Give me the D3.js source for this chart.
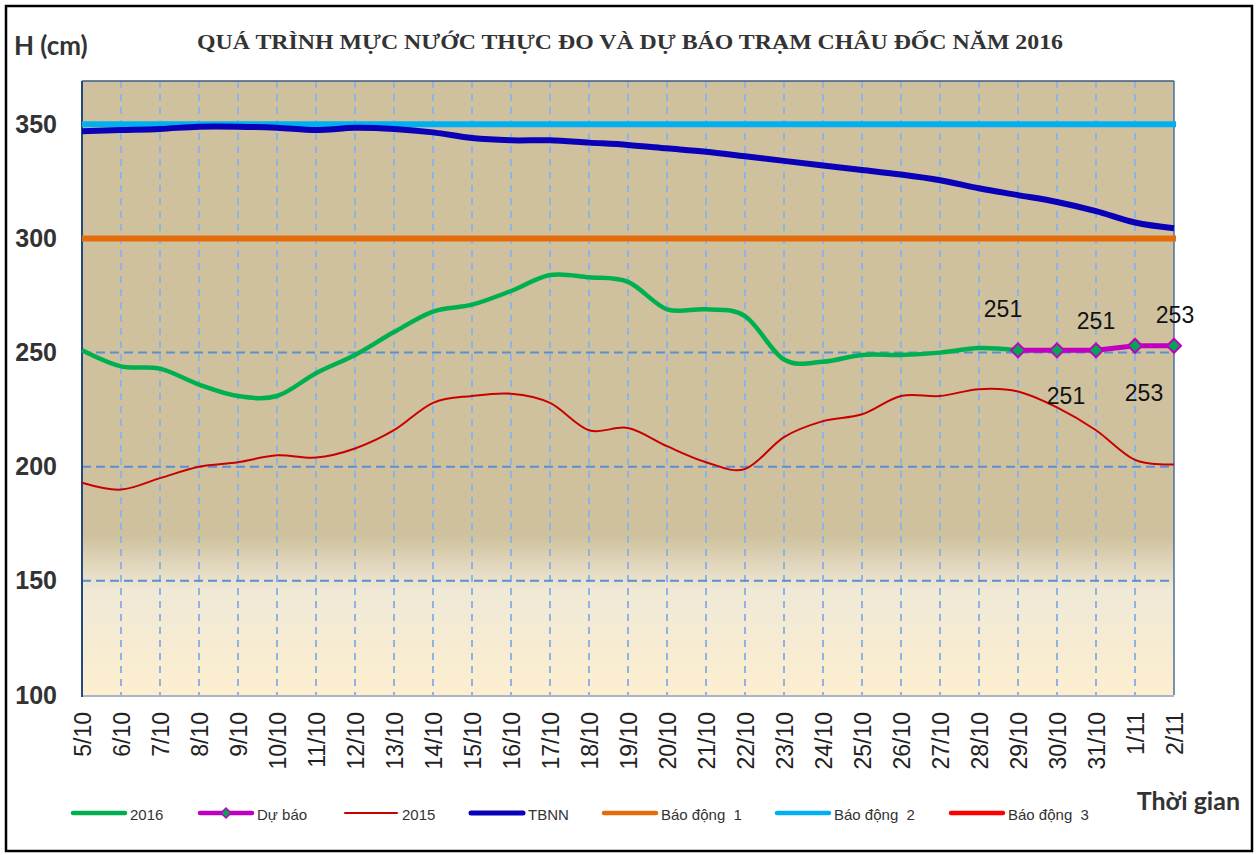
<!DOCTYPE html>
<html>
<head>
<meta charset="utf-8">
<script src="https://cdn.jsdelivr.net/npm/d3@7"></script>
<style>
    body { margin: 0; background: #fff; }
    #chart-container { width: 1258px; height: 855px; }
    .legendText { white-space: pre; }
</style>
</head>
<body>
<div id="chart-container"></div>
<script>
(function(){

//data
var dates = ["5/10","6/10","7/10","8/10","9/10","10/10","11/10","12/10","13/10","14/10",
    "15/10","16/10","17/10","18/10","19/10","20/10","21/10","22/10","23/10","24/10",
    "25/10","26/10","27/10","28/10","29/10","30/10","31/10","1/11","2/11"];

var level2016 = [251,244,243,236,231,231,241,249,259,268,
    271,277,284,283,281,269,269,266,247,246,
    249,249,250,252,251,null,null,null,null];

var forecast = [null,null,null,null,null,null,null,null,null,null,
    null,null,null,null,null,null,null,null,null,null,
    null,null,null,null,251,251,251,253,253];

var level2015 = [193,190,195,200,202,205,204,208,216,228,
    231,232,228,216,217,209,202,199,213,220,
    223,231,231,234,233,226,216,203,201];

var tbnn = [347,347.5,348,349,349,348.5,347.5,348.5,348,346.5,
    344,343,343,342,341,339.5,338,336,334,332,
    330,328,325.5,322,319,316,312,307,304.5];

var alertNames = ["Báo động  1","Báo động  2","Báo động  3"];
var alertLevels = [300, 350, 400];

var yTicks = [100, 150, 200, 250, 300, 350];

//forecast label offsets (label centre relative to point)
var labelOffsets = [[-15,-42],[9,45],[0,-30],[9,47],[1,-31]];

window.onload = setChart;

function setChart(){

    var width = 1258,
        height = 855;

    var left = 82, right = 1174, top = 81, bottom = 695;

    var svg = d3.select("#chart-container")
        .append("svg")
        .attr("width", width)
        .attr("height", height);

    var x = d3.scalePoint()
        .domain(dates)
        .range([left, right]);

    var y = d3.scaleLinear()
        .domain([100, 369])
        .range([bottom, top]);

    //outer frame
    svg.append("rect")
        .attr("x", 6)
        .attr("y", 6)
        .attr("width", 1246)
        .attr("height", 845)
        .attr("fill", "#fff")
        .attr("stroke", "#000")
        .attr("stroke-width", 2.5);

    //background gradient
    var defs = svg.append("defs");
    var grad = defs.append("linearGradient")
        .attr("id", "plotBg")
        .attr("x1", 0).attr("y1", 0)
        .attr("x2", 0).attr("y2", 1);
    grad.append("stop").attr("offset", 0).attr("stop-color", "#cfc19e");
    grad.append("stop").attr("offset", 0.74).attr("stop-color", "#cfc19e");
    grad.append("stop").attr("offset", 0.83).attr("stop-color", "#efe9d6");
    grad.append("stop").attr("offset", 1).attr("stop-color", "#fdeecf");

    defs.append("clipPath")
        .attr("id", "plotClip")
        .append("rect")
        .attr("x", left - 2)
        .attr("y", top)
        .attr("width", right - left + 6)
        .attr("height", bottom - top);

    svg.append("rect")
        .attr("x", left)
        .attr("y", top)
        .attr("width", right - left)
        .attr("height", bottom - top)
        .attr("fill", "url(#plotBg)");

    //vertical gridlines
    svg.selectAll(".vGrid")
        .data(dates.slice(1, -1))
        .enter()
        .append("line")
        .attr("class", "vGrid")
        .attr("x1", function(d){ return x(d); })
        .attr("x2", function(d){ return x(d); })
        .attr("y1", top)
        .attr("y2", bottom)
        .attr("stroke", "#8fb4e3")
        .attr("stroke-width", 2)
        .attr("stroke-dasharray", "7,6");

    //horizontal gridlines
    svg.selectAll(".hGrid")
        .data(yTicks.slice(1))
        .enter()
        .append("line")
        .attr("class", "hGrid")
        .attr("x1", left)
        .attr("x2", right)
        .attr("y1", function(d){ return y(d); })
        .attr("y2", function(d){ return y(d); })
        .attr("stroke", "#5b8fd5")
        .attr("stroke-width", 2)
        .attr("stroke-dasharray", "9,5");

    //plot border
    svg.append("line").attr("x1", left).attr("x2", right).attr("y1", top).attr("y2", top)
        .attr("stroke", "#3b5a82").attr("stroke-width", 1.5);
    svg.append("line").attr("x1", right).attr("x2", right).attr("y1", top).attr("y2", bottom)
        .attr("stroke", "#4d6f9c").attr("stroke-width", 1.5);
    svg.append("line").attr("x1", left).attr("x2", right).attr("y1", bottom + 1).attr("y2", bottom + 1)
        .attr("stroke", "#a9b6c8").attr("stroke-width", 2);
    svg.append("line").attr("x1", left).attr("x2", left).attr("y1", top).attr("y2", bottom + 2)
        .attr("stroke", "#24497c").attr("stroke-width", 2);

    var plot = svg.append("g").attr("clip-path", "url(#plotClip)");

    //alert lines
    var alertColors = ["#e46c0a", "#00b0f0", "#ff0000"];
    plot.selectAll(".alert")
        .data(alertLevels)
        .enter()
        .append("line")
        .attr("class", "alert")
        .attr("x1", left)
        .attr("x2", right + 2)
        .attr("y1", function(d){ return y(d); })
        .attr("y2", function(d){ return y(d); })
        .attr("stroke", function(d, i){ return alertColors[i]; })
        .attr("stroke-width", 6);

    var line = d3.line()
        .defined(function(d){ return d != null; })
        .x(function(d, i){ return x(dates[i]); })
        .y(function(d){ return y(d); })
        .curve(d3.curveCardinal.tension(0));

    plot.append("path")
        .datum(tbnn)
        .attr("d", line)
        .attr("fill", "none")
        .attr("stroke", "#0a00b8")
        .attr("stroke-width", 6);

    plot.append("path")
        .datum(level2015)
        .attr("d", line)
        .attr("fill", "none")
        .attr("stroke", "#c80000")
        .attr("stroke-width", 2);

    plot.append("path")
        .datum(level2016)
        .attr("d", line)
        .attr("fill", "none")
        .attr("stroke", "#00b050")
        .attr("stroke-width", 4.5);

    //forecast
    var fcIdx = [];
    forecast.forEach(function(d, i){ if (d != null) fcIdx.push(i); });

    var fcLine = d3.line()
        .x(function(i){ return x(dates[i]); })
        .y(function(i){ return y(forecast[i]); });

    svg.append("path")
        .datum(fcIdx)
        .attr("d", fcLine)
        .attr("fill", "none")
        .attr("stroke", "#c000c0")
        .attr("stroke-width", 5);

    svg.selectAll(".fcMarker")
        .data(fcIdx)
        .enter()
        .append("path")
        .attr("class", "fcMarker")
        .attr("d", "M0,-7L7,0L0,7L-7,0Z")
        .attr("transform", function(i){ return "translate(" + x(dates[i]) + "," + y(forecast[i]) + ")"; })
        .attr("fill", "#00a651")
        .attr("stroke", "#c000c0")
        .attr("stroke-width", 2);

    svg.selectAll(".fcLabel")
        .data(fcIdx)
        .enter()
        .append("text")
        .attr("class", "fcLabel")
        .attr("x", function(i, k){ return x(dates[i]) + labelOffsets[k][0]; })
        .attr("y", function(i, k){ return y(forecast[i]) + labelOffsets[k][1]; })
        .attr("dy", "0.36em")
        .attr("text-anchor", "middle")
        .attr("font-family", "Liberation Sans, Arial, sans-serif")
        .attr("font-size", 23)
        .attr("fill", "#111")
        .text(function(i){ return forecast[i]; });

    //axes
    var yAxis = d3.axisLeft(y)
        .tickValues(yTicks)
        .tickSize(0)
        .tickPadding(25);

    var yG = svg.append("g")
        .attr("transform", "translate(" + left + ",0)")
        .call(yAxis);
    yG.select(".domain").remove();
    yG.selectAll("text")
        .attr("font-family", "Liberation Sans, Arial, sans-serif")
        .attr("font-weight", "bold")
        .attr("font-size", 25)
        .attr("fill", "#333");

    var xAxis = d3.axisBottom(x)
        .tickSize(0);

    var xG = svg.append("g")
        .attr("transform", "translate(0," + bottom + ")")
        .call(xAxis);
    xG.select(".domain").remove();
    xG.selectAll("text")
        .attr("transform", "rotate(-90)")
        .attr("x", -17)
        .attr("y", 0)
        .attr("dy", "0.36em")
        .attr("text-anchor", "end")
        .attr("font-family", "Liberation Sans, Arial, sans-serif")
        .attr("font-size", 23)
        .attr("fill", "#222");

    //titles
    svg.append("text")
        .attr("x", 630)
        .attr("y", 49)
        .attr("text-anchor", "middle")
        .attr("font-family", "Liberation Serif, Times New Roman, serif")
        .attr("font-weight", "bold")
        .attr("font-size", 22)
        .attr("fill", "#333")
        .attr("textLength", 866)
        .attr("lengthAdjust", "spacingAndGlyphs")
        .text("QUÁ TRÌNH MỰC NƯỚC THỰC ĐO VÀ DỰ BÁO TRẠM CHÂU ĐỐC  NĂM 2016");

    svg.append("text")
        .attr("x", 14)
        .attr("y", 55)
        .attr("font-family", "Lato, sans-serif")
        .attr("font-weight", "bold")
        .attr("font-size", 26)
        .attr("fill", "#333")
        .text("H (cm)");

    svg.append("text")
        .attr("x", 1240)
        .attr("y", 810)
        .attr("text-anchor", "end")
        .attr("font-family", "Lato, sans-serif")
        .attr("font-weight", "bold")
        .attr("font-size", 25)
        .attr("fill", "#333")
        .text("Thời gian");

    setLegend(svg);
};

//LEGEND FUNCTION
function setLegend(svg){

    var items = [
        {name: "2016", color: "#00b050", w: 4.5, x: 73},
        {name: "Dự báo", color: "#c000c0", w: 4.5, x: 200, marker: true},
        {name: "2015", color: "#c80000", w: 2, x: 345},
        {name: "TBNN", color: "#0a00b8", w: 5, x: 471},
        {name: alertNames[0], color: "#e46c0a", w: 4.5, x: 604},
        {name: alertNames[1], color: "#00b0f0", w: 4.5, x: 777},
        {name: alertNames[2], color: "#ff0000", w: 4.5, x: 951}
    ];

    var ly = 813;

    var g = svg.selectAll(".legendItem")
        .data(items)
        .enter()
        .append("g")
        .attr("class", "legendItem")
        .attr("transform", function(d){ return "translate(" + d.x + "," + ly + ")"; });

    g.append("line")
        .attr("x1", 0)
        .attr("x2", 52)
        .attr("stroke", function(d){ return d.color; })
        .attr("stroke-width", function(d){ return d.w; })
        .attr("stroke-linecap", "round");

    g.filter(function(d){ return d.marker; })
        .append("path")
        .attr("d", "M0,-5L5,0L0,5L-5,0Z")
        .attr("transform", "translate(26,0)")
        .attr("fill", "#00a651")
        .attr("stroke", "#c000c0")
        .attr("stroke-width", 1.5);

    g.append("text")
        .attr("class", "legendText")
        .attr("x", 57)
        .attr("y", 0)
        .attr("dy", "0.45em")
        .attr("font-family", "Liberation Sans, Arial, sans-serif")
        .attr("font-size", 15)
        .attr("fill", "#333")
        .text(function(d){ return d.name; });
};

})();
</script>
</body>
</html>
